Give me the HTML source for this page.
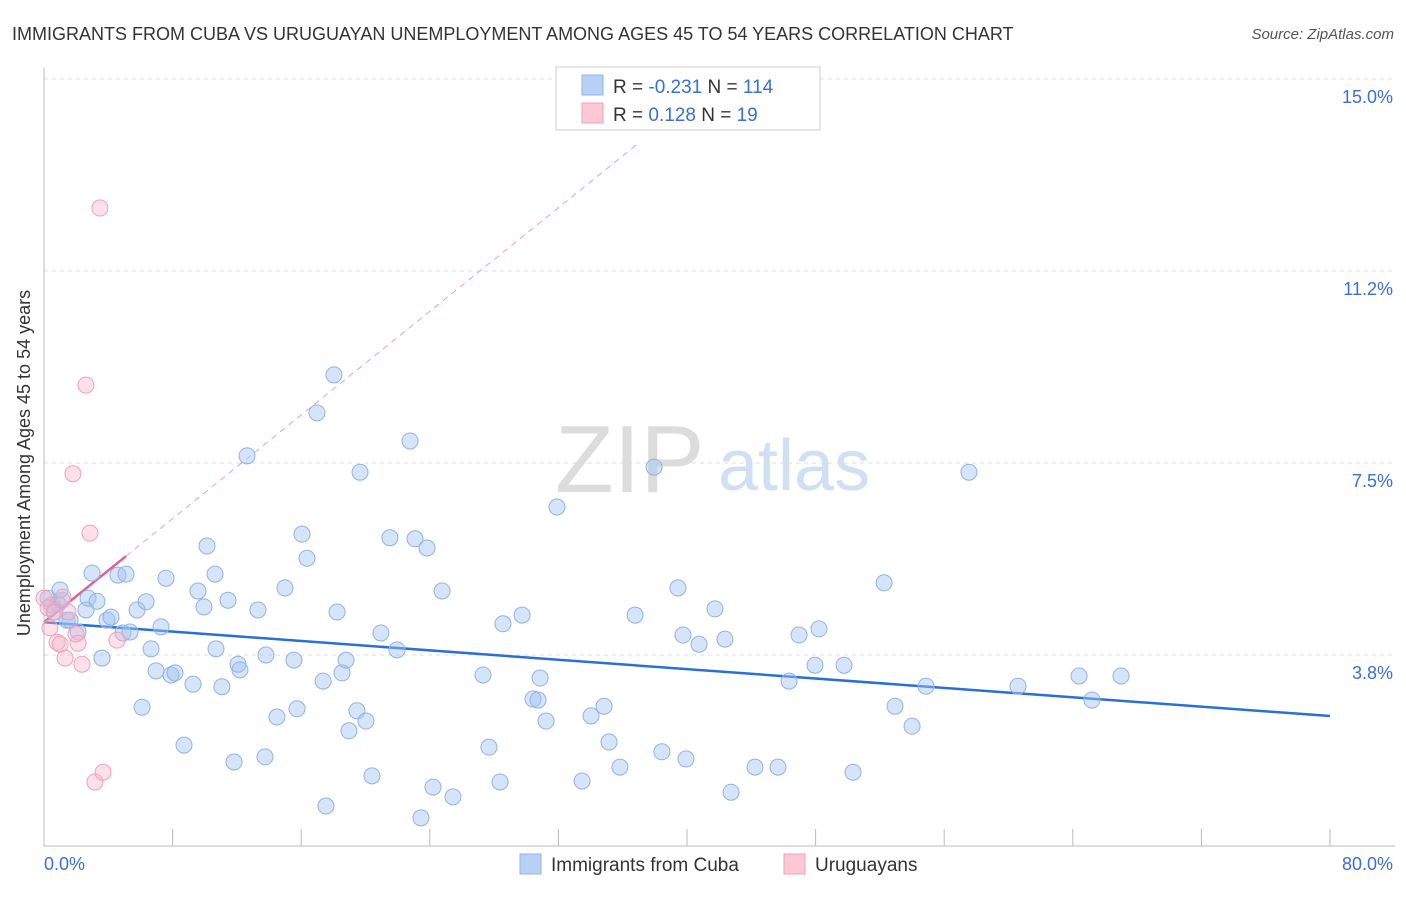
<!DOCTYPE html>
<html><head><meta charset="utf-8"><style>
body{margin:0;background:#fff;font-family:"Liberation Sans",sans-serif}
svg text{font-family:"Liberation Sans",sans-serif}
</style></head><body>
<svg width="1406" height="892" viewBox="0 0 1406 892">
<text x="12" y="40" font-size="18" fill="#333">IMMIGRANTS FROM CUBA VS URUGUAYAN UNEMPLOYMENT AMONG AGES 45 TO 54 YEARS CORRELATION CHART</text>
<text x="1394" y="39" font-size="15" fill="#555" text-anchor="end" font-style="italic">Source: ZipAtlas.com</text>
<g>
<text x="555" y="492" font-size="96" fill="#dcdcdc" font-family="Liberation Serif,serif">ZIP</text>
<text x="718" y="490" font-size="72" fill="#cfe0f5">atlas</text>
</g>
<g id="grid"></g>
<g id="axes"></g>
<g id="lines"></g>
<g id="pts"></g>
<text x="22" y="455" font-size="18" fill="#333" text-anchor="middle" transform="rotate(-90 30 455)">Unemployment Among Ages 45 to 54 years</text>
<g>
<rect x="556" y="67" width="264" height="63" fill="#fff" stroke="#ccc"/>
<rect x="582" y="75" width="21" height="20" fill="#b8d0f4" stroke="#8fb3e8"/>
<rect x="582" y="103" width="21" height="20" fill="#fcc8d6" stroke="#f0a0b8"/>
<text x="613" y="93" font-size="19" fill="#333">R = <tspan fill="#3a6fd8">-0.231</tspan>   N = <tspan fill="#3a6fd8">114</tspan></text>
<text x="613" y="121" font-size="19" fill="#333">R =  <tspan fill="#3a6fd8"> 0.128</tspan>   N =  <tspan fill="#3a6fd8"> 19</tspan></text>
</g>
<g>
<rect x="520" y="854" width="21" height="20" fill="#b8d0f4" stroke="#8fb3e8"/>
<text x="551" y="871" font-size="19" fill="#333">Immigrants from Cuba</text>
<rect x="784" y="854" width="21" height="20" fill="#fcc8d6" stroke="#f0a0b8"/>
<text x="815" y="871" font-size="19" fill="#333">Uruguayans</text>
</g>
</svg>
<script>
const yTicks=[3.75,7.5,11.25,15];
const yTickLabels=["3.8%","7.5%","11.2%","15.0%"];
const xTickLabels=["0.0%","80.0%"];
const cubaPx=[[52,605],[55,612],[58,604],[62,600],[67,620],[70,620],[78,632],[86,610],[88,598],[92,573],[97,601],[102,658],[107,620],[111,617],[118,575],[123,633],[126,574],[130,632],[137,610],[142,707],[146,602],[151,649],[156,671],[161,627],[166,578],[171,675],[175,673],[184,745],[193,684],[198,591],[204,607],[207,546],[215,574],[216,649],[222,687],[228,600],[234,762],[238,664],[240,670],[247,456],[258,610],[265,757],[266,655],[277,717],[285,588],[294,660],[297,709],[302,534],[307,558],[317,413],[323,681],[326,806],[334,375],[337,612],[342,673],[346,660],[349,731],[357,711],[360,472],[366,721],[372,776],[381,633],[390,538],[397,650],[410,441],[415,539],[421,818],[427,548],[433,787],[442,591],[453,797],[483,675],[489,747],[500,782],[503,624],[522,615],[533,699],[538,700],[540,678],[546,721],[557,507],[582,781],[591,716],[604,706],[609,742],[620,767],[635,615],[654,467],[662,752],[678,588],[683,635],[686,759],[699,644],[715,609],[725,639],[731,792],[755,767],[778,767],[789,681],[799,635],[815,665],[819,629],[844,665],[853,772],[884,583],[895,706],[912,726],[926,686],[969,472],[1018,686],[1079,676],[1092,700],[1121,676],[48,598],[60,590]];
const uruPx=[[44,598],[48,608],[50,628],[54,612],[57,642],[60,644],[63,597],[65,658],[68,612],[73,474],[76,634],[78,643],[82,664],[86,385],[90,533],[95,782],[100,208],[103,772],[117,640]];
// data values (x %, y %)
const cubaX=cubaPx.map(p=>+((p[0]-44)/16.075).toFixed(2));
const cubaY=cubaPx.map(p=>+((847-p[1])/51.2).toFixed(2));
const uruX=uruPx.map(p=>+((p[0]-44)/16.075).toFixed(2));
const uruY=uruPx.map(p=>+((847-p[1])/51.2).toFixed(2));
const cubaTrend=[4.39,-0.0229];
const uruTrend=[4.39,0.253];
const NS="http://www.w3.org/2000/svg";
const X=v=>44+v*16.075, Y=v=>847-v*51.2;
function mk(t,a,parent){const e=document.createElementNS(NS,t);for(const k in a)e.setAttribute(k,a[k]);document.getElementById(parent).appendChild(e);return e;}
yTicks.forEach((t,i)=>{
 const l=mk('line',{x1:44,x2:1395,y1:Y(t),y2:Y(t),stroke:'#ddd','stroke-dasharray':'4,4'},'grid');
 
 
 const tx=mk('text',{x:1393,y:Y(t)+24,'font-size':18,fill:'#3a6fd8','text-anchor':'end'},'axes');tx.textContent=yTickLabels[i];
 
 
});
const ax=mk('line',{x1:44,x2:44,y1:68,y2:846,stroke:'#bbb'},'axes');


const bx=mk('line',{x1:44,x2:1395,y1:846,y2:846,stroke:'#bbb'},'axes');


for(let i=0;i<=10;i++){const t=mk('line',{x1:X(i*8),x2:X(i*8),y1:829,y2:846,stroke:'#bbb'},'axes');
 
 }
[[0,44,'start'],[80,1393,'end']].forEach((d,i)=>{const t=mk('text',{x:d[1],y:870,'font-size':18,fill:'#3a6fd8','text-anchor':d[2]},'axes');t.textContent=xTickLabels[i];
 
 });
cubaX.forEach((x,i)=>{const c=mk('circle',{cx:X(x),cy:Y(cubaY[i]),r:8,fill:'rgba(164,196,240,0.45)',stroke:'#8fb3e8','stroke-width':1},'pts');
 
 });
uruX.forEach((x,i)=>{const c=mk('circle',{cx:X(x),cy:Y(uruY[i]),r:8,fill:'rgba(248,180,200,0.4)',stroke:'#f0a0b8','stroke-width':1},'pts');
 
 });
const bl=mk('line',{x1:X(0),y1:Y(cubaTrend[0]),x2:X(80),y2:Y(cubaTrend[0]+cubaTrend[1]*80),stroke:'#2a6fd6','stroke-width':2.5},'lines');


const pd=mk('line',{x1:X(5.1),y1:Y(uruTrend[0]+uruTrend[1]*5.1),x2:X(37),y2:Y(uruTrend[0]+uruTrend[1]*37),stroke:'#e8a0b8','stroke-width':1,'stroke-dasharray':'6,5'},'lines');


const pl=mk('line',{x1:X(0),y1:Y(uruTrend[0]),x2:X(5.1),y2:Y(uruTrend[0]+uruTrend[1]*5.1),stroke:'#e06090','stroke-width':2.5},'lines');


</script>
</body></html>
